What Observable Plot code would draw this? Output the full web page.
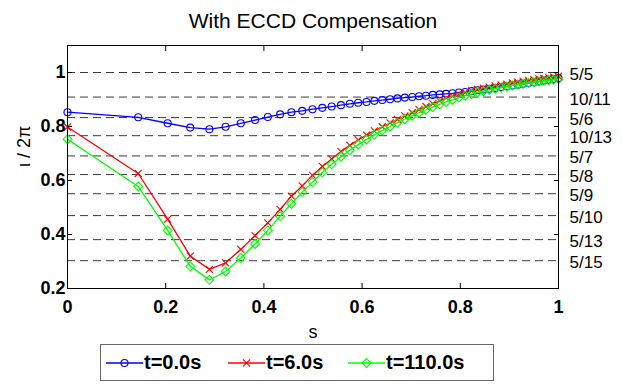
<!DOCTYPE html>
<html>
<head>
<meta charset="utf-8">
<script src="https://cdn.jsdelivr.net/npm/d3@7"></script>
<script src="https://cdn.jsdelivr.net/npm/@observablehq/plot@0.6"></script>
<style>
  body { margin: 0; background: #fff; }
  #chart { position: relative; width: 625px; height: 385px; font-family: "Liberation Sans", Arial, Helvetica, sans-serif; }
  #chart svg.plot { position: absolute; left: 0; top: 0; }
  #legend { position: absolute; left: 100px; top: 344px; width: 394px; height: 37px; box-sizing: border-box;
            border: 1px solid #666; background: #fff; }
  .item { position: absolute; top: 0; height: 100%; display: flex; align-items: center;
          font-weight: bold; font-size: 20px; color: #000; }
  .item svg { display: block; }
</style>
</head>
<body>
<div id="chart"><div id="legend"></div></div>
<script>
// Normalised toroidal flux s (radial grid)
const s = [0, 0.144, 0.204, 0.250, 0.289, 0.322, 0.353, 0.382, 0.408, 0.433,
           0.456, 0.478, 0.499, 0.519, 0.538, 0.557, 0.575, 0.592, 0.609, 0.625,
           0.641, 0.657, 0.672, 0.687, 0.702, 0.716, 0.730, 0.744, 0.758, 0.771,
           0.784, 0.797, 0.810, 0.823, 0.835, 0.847, 0.859, 0.871, 0.883, 0.895,
           0.906, 0.917, 0.928, 0.939, 0.950, 0.960, 0.970, 0.980, 0.990, 1.0];

// Rotational transform profiles iota/2pi at three times
const iotaT0 = [0.853, 0.834, 0.812, 0.796, 0.790, 0.799, 0.812, 0.824, 0.835, 0.845,
                0.853, 0.858, 0.864, 0.869, 0.874, 0.879, 0.884, 0.888, 0.891, 0.895,
                0.898, 0.901, 0.904, 0.907, 0.909, 0.912, 0.914, 0.917, 0.919, 0.921,
                0.923, 0.926, 0.928, 0.931, 0.934, 0.937, 0.940, 0.943, 0.946, 0.949,
                0.952, 0.955, 0.958, 0.961, 0.964, 0.967, 0.970, 0.973, 0.976, 0.979];
const iotaT6 = [0.798, 0.626, 0.457, 0.320, 0.271, 0.295, 0.345, 0.396, 0.443, 0.493,
                0.542, 0.580, 0.619, 0.652, 0.680, 0.707, 0.730, 0.750, 0.768, 0.784,
                0.799, 0.813, 0.826, 0.839, 0.851, 0.863, 0.874, 0.885, 0.895, 0.905,
                0.913, 0.920, 0.926, 0.932, 0.937, 0.942, 0.946, 0.950, 0.954, 0.957,
                0.961, 0.964, 0.967, 0.970, 0.973, 0.976, 0.978, 0.981, 0.983, 0.986];
const iotaT110 = [0.753, 0.578, 0.415, 0.282, 0.232, 0.263, 0.313, 0.365, 0.415, 0.468,
                  0.514, 0.557, 0.594, 0.630, 0.660, 0.688, 0.712, 0.733, 0.752, 0.769,
                  0.785, 0.800, 0.814, 0.827, 0.840, 0.851, 0.862, 0.872, 0.882, 0.891,
                  0.899, 0.907, 0.914, 0.920, 0.926, 0.931, 0.936, 0.940, 0.944, 0.948,
                  0.952, 0.955, 0.958, 0.961, 0.964, 0.967, 0.969, 0.971, 0.973, 0.975];

// Rational surfaces (dashed reference lines) and their labels
const resonanceValues = [1.0, 0.909, 0.833, 0.766, 0.691, 0.622, 0.551, 0.470, 0.381, 0.303];
const resonanceLabels = ["5/5", "10/11", "5/6", "10/13", "5/7", "5/8", "5/9", "5/10", "5/13", "5/15"];

// Axis ticks
const xTicks = [0, 0.2, 0.4, 0.6, 0.8, 1];
const xTickLabels = ["0", "0.2", "0.4", "0.6", "0.8", "1"];
const yTicks = [0.2, 0.4, 0.6, 0.8, 1];
const yTickLabels = ["0.2", "0.4", "0.6", "0.8", "1"];

// Series names and styles
const seriesNames = ["t=0.0s", "t=6.0s", "t=110.0s"];
const seriesColors = ["#0000ff", "#ff0000", "#00ff00"];
const seriesSymbols = ["circle", "times", "diamond2"];
const seriesR = [3.5, 3.3, 4];
const seriesValues = [iotaT0, iotaT6, iotaT110];

const series = seriesNames.map((name, k) => ({
  name, color: seriesColors[k], symbol: seriesSymbols[k], r: seriesR[k],
  rows: s.map((x, i) => ({s: x, iota: seriesValues[k][i]}))
}));

const font = "'Liberation Sans', Arial, Helvetica, sans-serif";

const marks = [
  // rational-surface reference lines
  Plot.ruleY(resonanceValues, {stroke: "#3a3a3a", strokeWidth: 1, strokeDasharray: "8,5"}),
  // profiles
  ...series.flatMap(se => [
    Plot.line(se.rows, {x: "s", y: "iota", stroke: se.color, strokeWidth: 1.3}),
    Plot.dot(se.rows, {x: "s", y: "iota", symbol: () => se.symbol, r: se.r, stroke: se.color, fill: "none", strokeWidth: 1.1})
  ]),
  Plot.frame({stroke: "#000", strokeWidth: 1}),
  // inward tick marks on all four sides
  Plot.axisY(yTicks, {anchor: "left", tickSize: 5, dx: 5, tickFormat: () => "", label: null}),
  Plot.axisY(yTicks, {anchor: "right", tickSize: 5, dx: -5, tickFormat: () => "", label: null}),
  Plot.axisX(xTicks, {anchor: "bottom", tickSize: 5, dy: -5, tickFormat: () => "", label: null}),
  Plot.axisX(xTicks, {anchor: "top", tickSize: 5, dy: 5, tickFormat: () => "", label: null}),
  // tick labels
  Plot.axisY(yTicks, {anchor: "left", tickSize: 0, tickPadding: 2, label: null,
    tickFormat: d => yTickLabels[yTicks.indexOf(d)], fontWeight: "bold", fontSize: 18, fill: "#000"}),
  Plot.axisX(xTicks, {anchor: "bottom", tickSize: 0, tickPadding: 12, label: null,
    tickFormat: d => xTickLabels[xTicks.indexOf(d)], fontWeight: "bold", fontSize: 18, fill: "#000"}),
  // rational-surface labels on the right
  Plot.text(resonanceLabels, {y: (d, i) => resonanceValues[i], frameAnchor: "right", dx: 11, dy: 2,
    textAnchor: "start", fontSize: 17, fill: "#000"}),
  // axis titles and chart title
  Plot.text(["s"], {frameAnchor: "bottom", lineAnchor: "bottom", dy: 49, fontSize: 18, fill: "#000"}),
  Plot.text(["\u03B9 / 2\u03C0"], {frameAnchor: "left", dx: -43, rotate: -90, fontSize: 18, fill: "#000"}),
  Plot.text(["With ECCD Compensation"], {frameAnchor: "top", lineAnchor: "bottom", dy: -18, fontSize: 21, fill: "#000"})
];

const chart = Plot.plot({
  width: 625,
  height: 340,
  marginLeft: 67,
  marginRight: 67,
  marginTop: 45,
  marginBottom: 52,
  x: {domain: [0, 1]},
  y: {domain: [0.2, 1.1]},
  style: {fontFamily: font, fontSize: "18px", background: "transparent", overflow: "visible", color: "#000"},
  marks
});
document.getElementById("chart").prepend(chart);

// Legend below the plot
const legend = d3.select("#legend");
const itemLeft = [5, 127, 247];
series.forEach((se, k) => {
  const item = legend.append("div").attr("class", "item").style("left", itemLeft[k] + "px");
  const svg = item.append("svg").attr("width", 38).attr("height", 20);
  svg.append("line").attr("x1", 0).attr("x2", 37).attr("y1", 10).attr("y2", 10)
    .attr("stroke", se.color).attr("stroke-width", 1.3);
  const sym = {circle: d3.symbolCircle, times: d3.symbolTimes, diamond2: d3.symbolDiamond2}[se.symbol];
  svg.append("path").attr("transform", "translate(18.5,10)")
    .attr("d", d3.symbol(sym, Math.PI * se.r * se.r)())
    .attr("fill", "none").attr("stroke", se.color).attr("stroke-width", 1.1);
  item.append("span").text(se.name);
});
</script>
</body>
</html>
